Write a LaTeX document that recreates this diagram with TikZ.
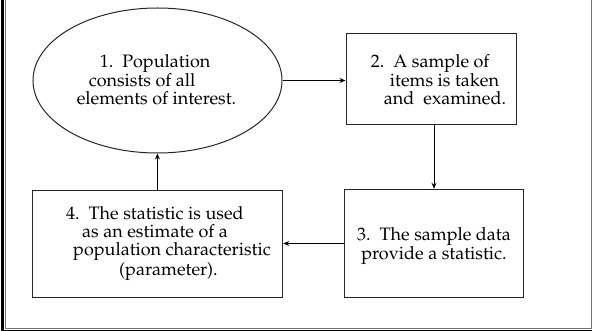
\documentclass[tikz,border=0pt]{standalone}
\usepackage[T1]{fontenc}
\usepackage{mathpazo}
\usetikzlibrary{shapes.geometric,arrows.meta}
\tikzset{
  stepbox/.style={draw=black!85, line width=1pt, inner sep=0pt, minimum width=#1},
  stepbox/.default=100pt,
  txt/.style={inner sep=0pt, font=\fontsize{18}{18}\selectfont},
  arr/.style={line width=1pt, -{Stealth[length=6pt,width=5pt]}}
}
\begin{document}
\begin{tikzpicture}[x=1pt,y=-1pt]
\useasboundingbox (0,0) rectangle (592,331);
% frame
\draw[black!55, line width=1.2pt] (5.5,-2) -- (5.5,328.8) -- (591.2,328.8) -- (591.2,-2);
\fill[black] (1,0) rectangle (4.3,331);
\fill[black] (4.3,330) rectangle (592,331);
% shapes
\node[draw=black!85, line width=1pt, ellipse, inner sep=0pt, minimum width=249pt, minimum height=145pt] (e1) at (157.5,80.5) {};
\node[stepbox=170pt, minimum height=91pt] (b2) at (431,79.5) {};
\node[stepbox=179.4pt, minimum height=108.4pt] (b3) at (434,243.5) {};
\node[stepbox=250.7pt, minimum height=106.6pt] (b4) at (157.4,244) {};
% texts
\node[txt, align=left] (t1) at (156.5,79.5) {\hspace*{23pt}1.~~Population\\\hspace*{12pt}consists of all\\elements of interest.};
\node[txt, align=left] (t2) at (438.5,79.5) {2.~~A sample of\\\hspace*{19pt}items is taken\\\hspace*{13pt}and~~examined.};
\node[txt, align=center] (t3) at (434,246) {3.~~The sample data\\provide a statistic.};
\node[txt, align=left] (t4) at (168.5,243.5) {4.~~The statistic is used\\\hspace*{16pt}as an estimate of a\\\hspace*{7pt}population characteristic\\\hspace*{53pt}(parameter).};
% connectors
\draw[arr] (e1.east) -- (e1.east -| b2.west);
\draw[arr] (b3.north |- b2.south) -- (b3.north);
\draw[arr] (b3.west) -- (b3.west -| b4.east);
\draw[arr] (b4.north) -- (b4.north |- e1.south);
\end{tikzpicture}
\end{document}
